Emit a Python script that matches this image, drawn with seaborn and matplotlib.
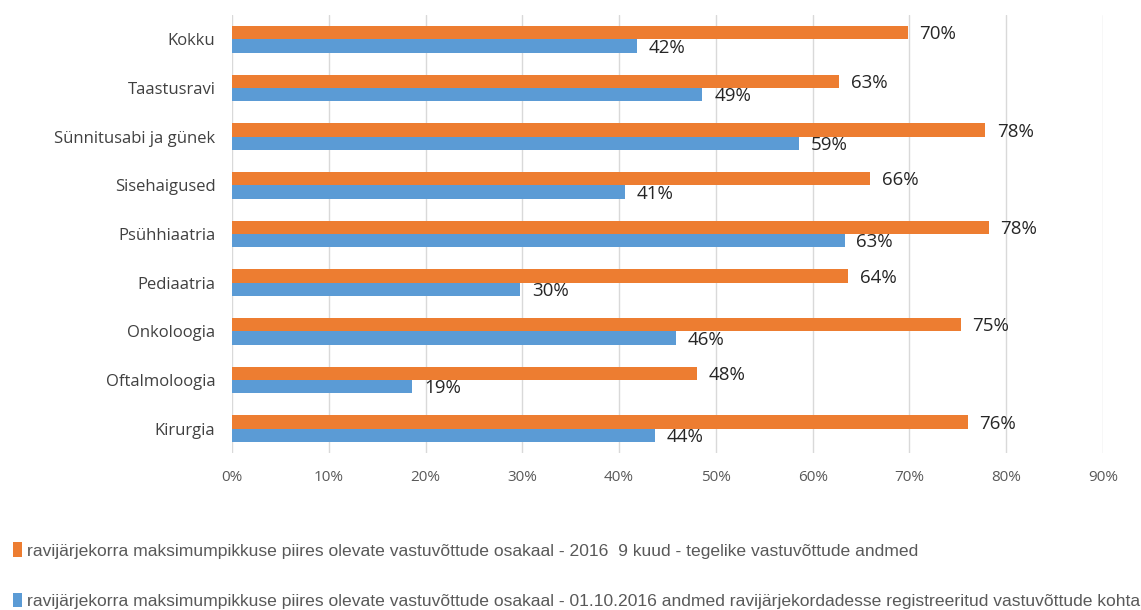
import matplotlib
matplotlib.use("Agg")
import matplotlib.pyplot as plt
import seaborn as sns
import pandas as pd
from matplotlib.patches import Patch

categories = ["Kokku", "Taastusravi", "Sünnitusabi ja günek", "Sisehaigused",
              "Psühhiaatria", "Pediaatria", "Onkoloogia", "Oftalmoloogia", "Kirurgia"]
series_names = [
    "ravijärjekorra maksimumpikkuse piires olevate vastuvõttude osakaal - 2016  9 kuud - tegelike vastuvõttude andmed",
    "ravijärjekorra maksimumpikkuse piires olevate vastuvõttude osakaal - 01.10.2016 andmed ravijärjekordadesse registreeritud vastuvõttude kohta",
]
orange_vals = [69.8, 62.7, 77.8, 65.9, 78.2, 63.7, 75.3, 48.0, 76.0]
blue_vals = [41.8, 48.6, 58.6, 40.6, 63.3, 29.8, 45.9, 18.6, 43.7]
xticks = [0, 10, 20, 30, 40, 50, 60, 70, 80, 90]
colors = ["#ED7D31", "#5B9BD5"]

sns.set_theme(style="white")
plt.rcParams['font.family'] = ["Open Sans", "DejaVu Sans"]

df = pd.DataFrame({
    "cat": categories * 2,
    "val": orange_vals + blue_vals,
    "series": [series_names[0]] * len(categories) + [series_names[1]] * len(categories),
})

fig = plt.figure(figsize=(11.41, 6.10), dpi=100)
ax = fig.add_axes([232/1141, 1 - 453/610, (1103-232)/1141, (453-15)/610])
sns.barplot(data=df, y="cat", x="val", hue="series", order=categories,
            hue_order=series_names, palette=colors, orient="h",
            width=0.55, gap=0, ax=ax, legend=False, saturation=1, linewidth=0)

for cont in ax.containers:
    labels = ax.bar_label(cont, labels=[f"{v:.0f}%" for v in cont.datavalues],
                          padding=8.5, fontsize=13.5, color="#262626")
    for lab in labels:
        x0, y0 = lab.xyann
        lab.xyann = (x0, y0 - 1.2)

ax.set_xlim(0, 90)
ax.set_xticks(xticks)
ax.set_xticklabels([f"{t}%" for t in xticks], color="#595959", fontsize=11)
ax.set_yticklabels(categories, color="#404040", fontsize=12)
ax.tick_params(axis="x", pad=12, length=0)
ax.tick_params(axis="y", pad=12, length=0)
ax.set_xlabel("")
ax.set_ylabel("")
ax.grid(axis="x", color="#D9D9D9", linewidth=1)
ax.set_axisbelow(True)
for s in ax.spines.values():
    s.set_visible(False)

handles = [Patch(facecolor=c, edgecolor="none") for c in colors]
leg = fig.legend(handles, series_names, loc="upper left", bbox_to_anchor=(8/1141, 1 - 537/610),
                 frameon=False, labelspacing=1.95, handlelength=0.5,
                 handleheight=0.9, handletextpad=0.3, borderaxespad=0, borderpad=0.3,
                 prop={"family": ["Liberation Sans", "DejaVu Sans"], "size": 12.6})
for t in leg.get_texts():
    t.set_color("#595959")

fig.savefig("out.png", dpi=100)
